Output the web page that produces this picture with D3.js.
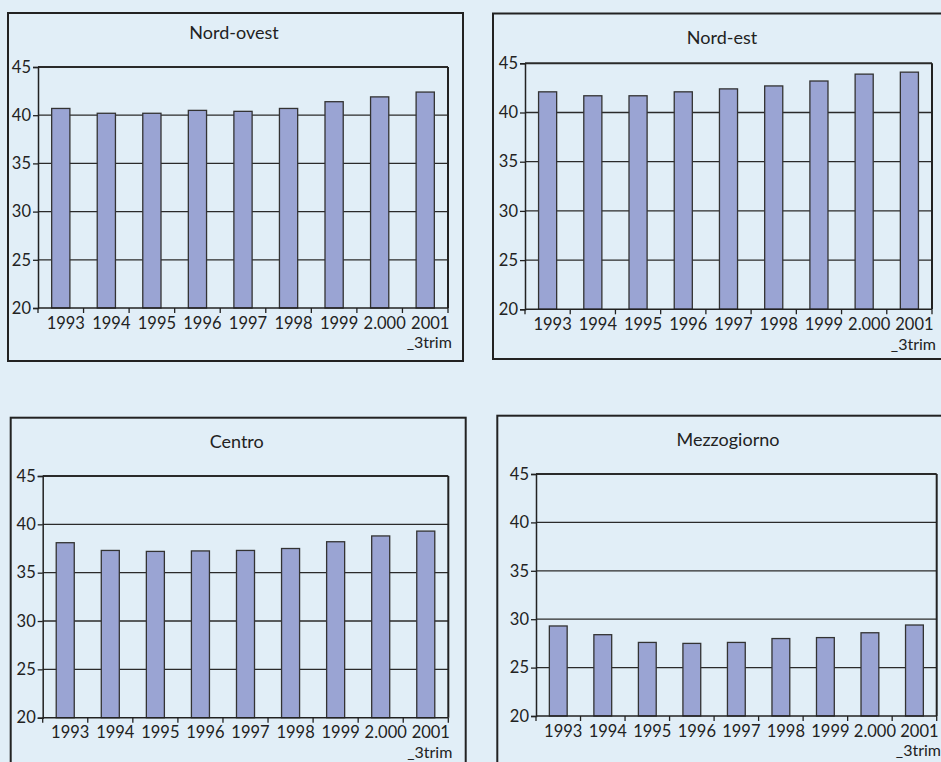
<!DOCTYPE html>
<html><head><meta charset="utf-8">
<script src="https://cdn.jsdelivr.net/npm/d3@7"></script>
<style>
html,body{margin:0;padding:0;background:#E1EEF7;}
svg{display:block;}
text{font-family:"Lato","Open Sans",sans-serif;fill:#222;}
</style></head><body>
<svg id="c" width="941" height="762"></svg>
<script>
const categories = ["1993","1994","1995","1996","1997","1998","1999","2.000","2001"];
const lastSub = "_3trim";
const yTicks = [20,25,30,35,40,45];
const titles = ["Nord-ovest","Nord-est","Centro","Mezzogiorno"];
const nordOvest   = [40.7,40.2,40.2,40.5,40.4,40.7,41.4,41.9,42.4];
const nordEst     = [42.1,41.7,41.7,42.1,42.4,42.7,43.2,43.9,44.1];
const centro      = [38.1,37.3,37.2,37.25,37.3,37.5,38.2,38.8,39.3];
const mezzogiorno = [29.3,28.4,27.6,27.5,27.6,28.0,28.1,28.6,29.4];
const seriesList = [nordOvest,nordEst,centro,mezzogiorno];

// layout (positions only)
const layout = [
  {frame:[8,13,463,361],  plot:[38,448,67,308],     tx:234, ty:39},
  {frame:[493,13.5,948,359], plot:[525,932,63.3,309.3], tx:722, ty:44},
  {frame:[10.7,417.7,465.7,770], plot:[42.7,448.3,476,717.7], tx:236.7, ty:448},
  {frame:[497.3,415.7,948,770], plot:[536,936.7,474,716], tx:728, ty:446}
];

const svg = d3.select("#c");
const ink = "#222";
const last = categories[categories.length-1];

seriesList.forEach((vals,i)=>{
  const L = layout[i];
  const g = svg.append("g");
  const [fx0,fy0,fx1,fy1] = L.frame;
  g.append("rect").attr("x",fx0).attr("y",fy0).attr("width",fx1-fx0).attr("height",fy1-fy0)
    .attr("fill","none").attr("stroke",ink).attr("stroke-width",2);
  g.append("text").attr("x",L.tx).attr("y",L.ty).attr("text-anchor","middle")
    .style("font-size","18px").text(titles[i]);

  const [pl,pr,pt,pb] = L.plot;
  const x = d3.scaleBand().domain(categories).range([pl,pr]).paddingInner(0.6).paddingOuter(0.3);
  const y = d3.scaleLinear().domain([20,45]).range([pb,pt]);

  // gridlines
  g.append("g").selectAll("line").data(yTicks.filter(t=>t>20)).join("line")
    .attr("x1",pl).attr("x2",pr).attr("y1",d=>y(d)).attr("y2",d=>y(d))
    .attr("stroke","#2a2a2a").attr("stroke-width",d=>d===45?2:1.3);
  // right border
  g.append("line").attr("x1",pr).attr("x2",pr).attr("y1",y(45)).attr("y2",y(20))
    .attr("stroke",ink).attr("stroke-width",2);

  // bars
  g.append("g").selectAll("rect").data(vals).join("rect")
    .attr("x",(d,j)=>x(categories[j]))
    .attr("width",x.bandwidth())
    .attr("y",d=>y(d)).attr("height",d=>y(20)-y(d))
    .attr("fill","#9AA4D3").attr("stroke","#333").attr("stroke-width",1.3);

  // y axis
  const ya = g.append("g").attr("transform",`translate(${pl},0)`)
    .call(d3.axisLeft(y).tickValues(yTicks).tickSize(5).tickPadding(2));
  ya.select(".domain").attr("stroke",ink).attr("stroke-width",1.5);
  ya.selectAll(".tick line").attr("stroke",ink).attr("stroke-width",1.3);
  ya.selectAll("text").style("font-size","16.5px").attr("fill","#222");

  // x axis baseline
  g.append("line").attr("x1",pl).attr("x2",pr).attr("y1",pb).attr("y2",pb)
    .attr("stroke",ink).attr("stroke-width",1.5);
  // x ticks at category boundaries
  const bounds = categories.map(c=>x(c)-x.step()*0.3).concat([pr]);
  g.append("g").selectAll("line").data(bounds).join("line")
    .attr("x1",d=>d).attr("x2",d=>d).attr("y1",pb).attr("y2",pb+5)
    .attr("stroke",ink).attr("stroke-width",1.3);
  // x labels
  const xa = g.append("g").attr("transform",`translate(0,${pb})`)
    .call(d3.axisBottom(x).tickSize(0).tickPadding(9));
  xa.select(".domain").remove();
  xa.selectAll("text").style("font-size","16.5px").attr("fill","#222").attr("dx",5);
  // two-line last label
  xa.selectAll(".tick").filter(d=>d===last).select("text").each(function(){
    const t = d3.select(this);
    t.text(null);
    t.append("tspan").attr("x",0).attr("dx",5).text(last);
    t.append("tspan").attr("x",0).attr("dx",4).attr("dy","1.22em")
      .style("font-size","16px").text(lastSub);
  });
});
</script></body></html>
